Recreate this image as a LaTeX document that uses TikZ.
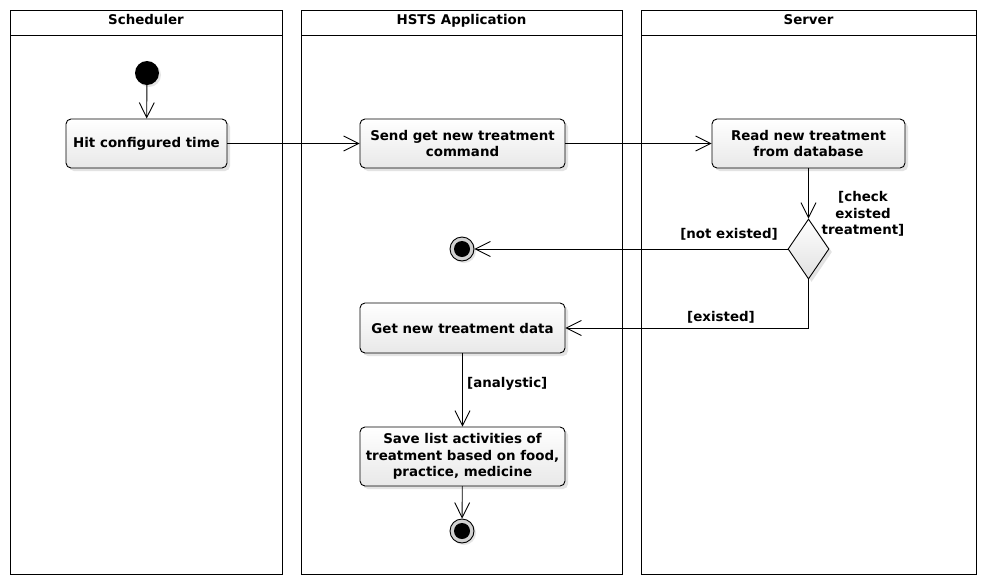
\documentclass[tikz,border=0pt]{standalone}
\usepackage{fontspec}
\setmainfont{DejaVu Sans}
\usetikzlibrary{arrows.meta,shadows,shapes.geometric}

\begin{document}
\begin{tikzpicture}[x=1pt,y=-1pt,
	txt/.style={font=\fontsize{13.4}{16.5}\selectfont\bfseries, align=center, inner sep=0pt},
	lanetitle/.style={txt, anchor=base},
	lane/.style={draw=black, line width=0.9pt},
	activity/.style={txt, draw=black, line width=0.9pt, rounded corners=5pt,
		top color=white, bottom color=black!9, minimum height=49pt,
		drop shadow={opacity=0.22, shadow xshift=3pt, shadow yshift=-3pt}},
	startdot/.style={circle, fill=black, minimum size=24pt, inner sep=0pt,
		drop shadow={opacity=0.2, shadow xshift=2pt, shadow yshift=-2pt}},
	stopdot/.style={circle, draw=black, line width=0.9pt, fill=black!18, minimum size=24pt, inner sep=0pt,
		drop shadow={opacity=0.2, shadow xshift=2pt, shadow yshift=-2pt},
		path picture={\fill[black] (path picture bounding box.center) circle (8pt);}},
	decision/.style={diamond, draw=black, line width=0.9pt, top color=white, bottom color=black!12,
		minimum width=41pt, minimum height=60pt, inner sep=0pt,
		drop shadow={opacity=0.22, shadow xshift=3pt, shadow yshift=-3pt}},
	flow/.style={draw=black, line width=0.9pt, -{Straight Barb[length=15pt, width=15pt, line width=0.9pt]}}]
	\useasboundingbox (0,0) rectangle (986,584);
	\fill[white] (0,0) rectangle (986,584);

	% swimlanes
	\draw[lane] (10,10) rectangle (282,574);
	\draw[lane] (10,35) -- (282,35);
	\node[lanetitle] (schedlane) at (146,24) {Scheduler};
	\draw[lane] (301,10) rectangle (622,574);
	\draw[lane] (301,35) -- (622,35);
	\node[lanetitle] (applane) at (461.5,24) {HSTS Application};
	\draw[lane] (641,10) rectangle (976,574);
	\draw[lane] (641,35) -- (976,35);
	\node[lanetitle] (serverlane) at (808.5,24) {Server};

	% activities
	\node[startdot] (start) at (147,73) {};
	\node[activity, minimum width=161pt] (hit) at (146.5,143.5) {Hit configured time};
	\node[activity, minimum width=205pt] (send) at (462.5,143.5) {Send get new treatment\\command};
	\node[activity, minimum width=193pt] (read) at (808.5,143.5) {Read new treatment\\from database};
	\node[decision] (check) at (808.5,249) {};
	\node[stopdot] (stop1) at (462,249) {};
	\node[activity, minimum width=205pt, minimum height=50pt] (getdata) at (462.5,328) {Get new treatment data};
	\node[activity, minimum width=205pt, minimum height=59pt] (save) at (462.5,456.5) {Save list activities of\\treatment based on food,\\practice, medicine};
	\node[stopdot] (stop2) at (462,531) {};

	% guards
	\node[txt] (checklbl) at (863,214) {[check\\existed\\treatment]};
	\node[txt] (notlbl) at (729,234) {[not existed]};
	\node[txt] (existlbl) at (721,317) {[existed]};
	\node[txt, anchor=west] (analbl) at (467,384) {[analystic]};

	% connectors
	\draw[flow] (start) -- (hit);
	\draw[flow] (hit) -- (send);
	\draw[flow] (send) -- (read);
	\draw[flow] (read) -- (check);
	\draw[flow] (check) -- (stop1);
	\draw[flow] (check.south) |- (getdata);
	\draw[flow] (getdata) -- (save);
	\draw[flow] (save) -- (stop2);
\end{tikzpicture}
\end{document}
